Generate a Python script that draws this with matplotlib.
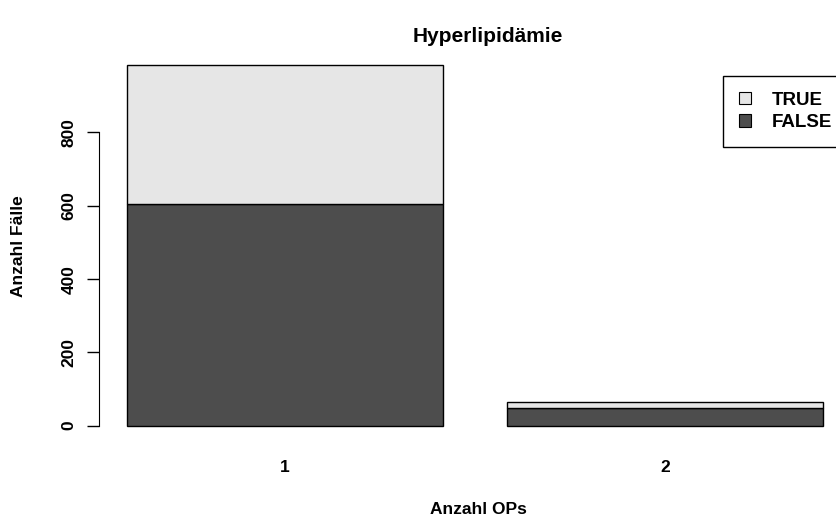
import matplotlib
matplotlib.use("Agg")
import matplotlib.pyplot as plt
from matplotlib.patches import Patch

plt.rcParams['font.family'] = ['Liberation Sans', 'DejaVu Sans']
plt.rcParams['font.weight'] = 'bold'

# data
categories = ["1", "2"]
false_counts = [606, 48]
true_counts = [378, 17]
series_labels = ["TRUE", "FALSE"]
colors = {"TRUE": "#E6E6E6", "FALSE": "#4D4D4D"}

W, H = 837, 523
fig = plt.figure(figsize=(W / 100, H / 100), dpi=100)
# plot region in pixels (R style, runs past the right edge)
left, right, top, bottom = 99.2, 850.8, 50.6, 440.1
ax = fig.add_axes([left / W, 1 - bottom / H, (right - left) / W, (bottom - top) / H])

# R barplot positions: width 1, space 0.2
xpos = [0.2 + 1.2 * i + 0.5 for i in range(len(categories))]
totals = [f + t for f, t in zip(false_counts, true_counts)]

ax.bar(xpos, false_counts, width=1.0, color=colors["FALSE"], edgecolor="black", linewidth=1)
ax.bar(xpos, true_counts, width=1.0, bottom=false_counts, color=colors["TRUE"],
       edgecolor="black", linewidth=1)

xr = (0.2, 0.2 + 1.2 * (len(categories) - 1) + 1.0)
dx = (xr[1] - xr[0]) * 0.04
ax.set_xlim(xr[0] - dx, xr[1] + dx)
ymax = max(totals)
ax.set_ylim(-ymax * 0.04, ymax * 1.04)

for s in ["top", "right", "bottom"]:
    ax.spines[s].set_visible(False)
ax.spines["left"].set_bounds(0, 800)
ax.set_yticks([0, 200, 400, 600, 800])
ax.set_yticklabels(["0", "200", "400", "600", "800"], rotation=90, va="center", fontsize=12.5)
ax.tick_params(axis="y", length=8.4, width=1, pad=8)
ax.set_xticks(xpos)
ax.set_xticklabels(categories, fontsize=12.5)
ax.tick_params(axis="x", length=0, pad=14)

fig.text(488 / W, 1 - 36 / H, "Hyperlipidämie", ha="center", va="center", fontsize=15, fontweight="bold")
fig.text(478 / W, 1 - 509 / H, "Anzahl OPs", ha="center", va="center", fontsize=12.5, fontweight="bold")
fig.text(19 / W, 1 - 246 / H, "Anzahl Fälle", ha="center", va="center", rotation=90,
         fontsize=12.5, fontweight="bold")

handles = [Patch(facecolor=colors[k], edgecolor="black", linewidth=0.8) for k in series_labels]
leg = ax.legend(handles, series_labels, loc="upper left", bbox_to_anchor=(723 / W, 1 - 75.7 / H),
                bbox_transform=fig.transFigure, fancybox=False, framealpha=1, edgecolor="black",
                fontsize=13.5, handlelength=0.65, handleheight=0.65, handletextpad=1.1,
                borderpad=0.85, labelspacing=0.3, borderaxespad=0)
leg.get_frame().set_linewidth(1)

fig.savefig("out.png", dpi=100)
